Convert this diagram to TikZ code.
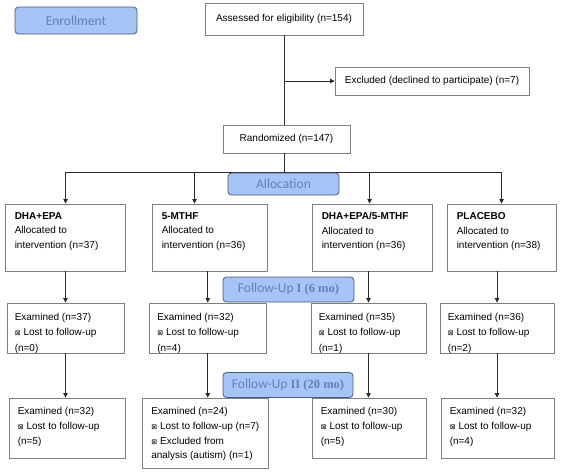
\documentclass[tikz,border=0pt]{standalone}
\usepackage{fontspec}
\setmainfont{Liberation Sans}
\newfontfamily\calib{Carlito}
\newfontfamily\serifb{Liberation Serif}
\newfontfamily\dejavu{DejaVu Sans}
\usetikzlibrary{arrows.meta,fit,calc}
\definecolor{lblfill}{HTML}{A6C4F6}
\definecolor{lbldraw}{HTML}{4A5A78}
\definecolor{lbltext}{HTML}{5F82BE}
\definecolor{boxgray}{HTML}{7F7F7F}
\definecolor{linecol}{HTML}{2A2A2A}
\newcommand\bul{{\dejavu\fontsize{7}{7}\selectfont ⊠}\hspace{3pt}}
\newcommand\fu[1]{{\serifb\bfseries\fontsize{12.5}{12.5}\selectfont #1}}
\tikzset{
  box/.style={draw=boxgray, line width=0.9pt, inner sep=0pt, fill=white},
  txt/.style={inner sep=0pt, anchor=north west, align=left},
  fa/.style={font=\fontsize{10}{14.5}\selectfont},
  fb/.style={font=\fontsize{10}{15.5}\selectfont},
  fc/.style={font=\fontsize{10}{14.7}\selectfont},
  ctxt/.style={font=\fontsize{10}{12}\selectfont},
  lbl/.style={draw=lbldraw, fill=lblfill, rounded corners=3.5pt, line width=0.8pt, text=lbltext, font=\calib\fontsize{13.5}{13.5}\selectfont, inner sep=0pt, anchor=center},
  conn/.style={draw=linecol, line width=0.9pt},
  arr/.style={conn, -{Triangle[length=4.5pt,width=4.5pt]}},
}
\begin{document}
\begin{tikzpicture}[x=1pt,y=-1pt]
\useasboundingbox (0,0) rectangle (562,472);

% top part
\node[box, ctxt, fit={(205,3) (363,35)}] (assess) {};
\node[ctxt, inner sep=0pt] (assesst) at (assess.center) {Assessed for eligibility (n=154)};
\node[box, ctxt, fit={(335,67) (529,95)}] (excl) {};
\node[ctxt, inner sep=0pt] (exclt) at (excl.center) {Excluded (declined to participate) (n=7)};
\node[box, ctxt, fit={(223,125) (350,153)}] (rand) {};
\node[ctxt, inner sep=0pt] (randt) at (rand.center) {Randomized (n=147)};

% row 1
\node[box, fit={(5,204) (125,271)}] (a1) {};
\node[box, fit={(152,204) (267,271)}] (a2) {};
\node[box, fit={(312,204) (432,271)}] (a3) {};
\node[box, fit={(447,204) (556,271)}] (a4) {};
\node[txt, fa] (a1t) at ([xshift=10pt,yshift=-8.8pt]a1.north west) {\textbf{DHA+EPA}\\Allocated to\\intervention (n=37)};
\node[txt, fa] (a2t) at ([xshift=10pt,yshift=-8.8pt]a2.north west) {\textbf{5-MTHF}\\Allocated to\\intervention (n=36)};
\node[txt, fa] (a3t) at ([xshift=10pt,yshift=-8.8pt]a3.north west) {\textbf{DHA+EPA/5-MTHF}\\Allocated to\\intervention (n=36)};
\node[txt, fa] (a4t) at ([xshift=10pt,yshift=-8.8pt]a4.north west) {\textbf{PLACEBO}\\Allocated to\\intervention (n=38)};

% row 2
\node[box, fit={(7,303) (124,353)}] (b1) {};
\node[box, fit={(149.5,303) (266,353)}] (b2) {};
\node[box, fit={(311,303) (426,353)}] (b3) {};
\node[box, fit={(440,303) (554,353)}] (b4) {};
\node[txt, fb] (b1t) at ([xshift=8pt,yshift=-10.4pt]b1.north west) {Examined (n=37)\\\bul Lost to follow-up\\(n=0)};
\node[txt, fb] (b2t) at ([xshift=8pt,yshift=-10.4pt]b2.north west) {Examined (n=32)\\\bul Lost to follow-up\\(n=4)};
\node[txt, fb] (b3t) at ([xshift=8pt,yshift=-10.4pt]b3.north west) {Examined (n=35)\\\bul Lost to follow-up\\(n=1)};
\node[txt, fb] (b4t) at ([xshift=8pt,yshift=-10.4pt]b4.north west) {Examined (n=36)\\\bul Lost to follow-up\\(n=2)};

% row 3
\node[box, fit={(9,398) (125,458)}] (c1) {};
\node[box, fit={(142.5,398) (268,468)}] (c2) {};
\node[box, fit={(312,398) (426,458)}] (c3) {};
\node[box, fit={(441,398) (554,458)}] (c4) {};
\node[txt, fc] (c1t) at ([xshift=9pt,yshift=-9.6pt]c1.north west) {Examined (n=32)\\\bul Lost to follow-up\\(n=5)};
\node[txt, fc] (c2t) at ([xshift=9pt,yshift=-9.6pt]c2.north west) {Examined (n=24)\\\bul Lost to follow-up (n=7)\\\bul Excluded from\\analysis (autism) (n=1)};
\node[txt, fc] (c3t) at ([xshift=9pt,yshift=-9.6pt]c3.north west) {Examined (n=30)\\\bul Lost to follow-up\\(n=5)};
\node[txt, fc] (c4t) at ([xshift=9pt,yshift=-9.6pt]c4.north west) {Examined (n=32)\\\bul Lost to follow-up\\(n=4)};

% connectors
\coordinate (split) at (284,172.5);
\draw[conn] (assess.south) -- (assess.south |- rand.north);
\draw[arr] (assess.south |- excl.west) -- (excl.west);
\draw[conn] (rand.south -| split) -- (split);
\draw[arr] (split) -| ([xshift=61pt]a1.north west);
\draw[arr] (split) -| ([xshift=43pt]a2.north west);
\draw[arr] (split) -| ([xshift=58pt]a3.north west);
\draw[arr] (split) -| ([xshift=55pt]a4.north west);

\draw[arr] (b1.north |- a1.south) -- (b1.north);
\draw[arr] (b2.north |- a2.south) -- (b2.north);
\draw[arr] (b3.north |- a3.south) -- (b3.north);
\draw[arr] (b4.north |- a4.south) -- (b4.north);

\draw[arr] (b1.south) -- (b1.south |- c1.north);
\draw[arr] (b2.south) -- (b2.south |- c2.north);
\draw[arr] (b3.south) -- (b3.south |- c3.north);
\draw[arr] (b4.south) -- (b4.south |- c4.north);

% stage labels
\node[lbl, minimum width=122pt, minimum height=27pt] (enroll) at (76,20.5) {Enrollment};
\node[lbl, minimum width=111pt, minimum height=22pt] (alloc) at (283.5,184) {Allocation};
\node[lbl, minimum width=131pt, minimum height=25pt] (fu1) at (288.5,289.5) {Follow-Up \fu{I (6 mo)}};
\node[lbl, minimum width=130pt, minimum height=25pt] (fu2) at (288,385) {Follow-Up \fu{II (20 mo)}};
\end{tikzpicture}
\end{document}
